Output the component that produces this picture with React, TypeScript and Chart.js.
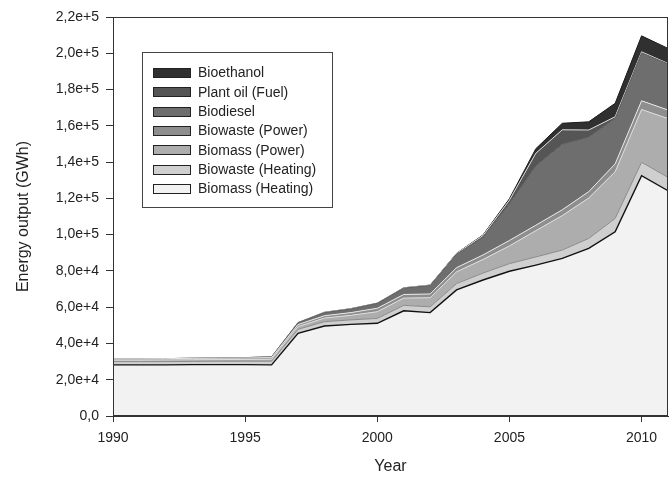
import React, { useEffect, useRef } from "react";
import { Chart, registerables } from "chart.js";

Chart.register(...registerables);

// ---- data (GWh) ----
const years = [1990, 1991, 1992, 1993, 1994, 1995, 1996, 1997, 1998, 1999, 2000, 2001, 2002, 2003, 2004, 2005, 2006, 2007, 2008, 2009, 2010, 2011];

const biomassHeating = [28200, 28200, 28200, 28300, 28300, 28300, 28200, 45600, 49600, 50500, 51100, 58000, 57000, 69500, 75000, 79800, 83200, 86900, 92400, 101600, 132500, 124200];
const biowasteHeating = [1800, 1800, 1800, 1800, 1900, 1900, 2000, 2200, 2400, 2500, 2700, 3000, 3200, 3500, 3800, 4200, 4500, 4600, 5500, 7300, 7400, 7400];
const biomassPower = [800, 800, 900, 900, 900, 1000, 1100, 1500, 2000, 2500, 3700, 4000, 5000, 6500, 7500, 9800, 14500, 19000, 22300, 25800, 29100, 32400];
const biowastePower = [700, 700, 700, 800, 800, 800, 900, 1100, 1300, 1500, 1900, 2000, 2100, 2300, 2500, 3000, 3000, 3200, 3500, 4300, 4800, 4700];
const biodiesel = [0, 0, 50, 50, 100, 200, 400, 1000, 1700, 2000, 2700, 3500, 4600, 7400, 9700, 20200, 32700, 36100, 30000, 25000, 26400, 25400];
const plantOil = [0, 0, 0, 0, 0, 0, 0, 100, 200, 200, 100, 200, 300, 400, 1000, 2000, 7000, 8000, 4000, 1000, 600, 300];
const bioethanol = [0, 0, 0, 0, 0, 0, 0, 0, 0, 0, 0, 0, 0, 100, 300, 800, 2500, 3600, 4500, 7400, 8800, 8300];

const yTickValues = [0, 20000, 40000, 60000, 80000, 100000, 120000, 140000, 160000, 180000, 200000, 220000];
const xTickValues = [1990, 1995, 2000, 2005, 2010];

const seriesNames = ["Biomass (Heating)", "Biowaste (Heating)", "Biomass (Power)", "Biowaste (Power)", "Biodiesel", "Plant oil (Fuel)", "Bioethanol"];
const seriesValues = [biomassHeating, biowasteHeating, biomassPower, biowastePower, biodiesel, plantOil, bioethanol];
const fillColors = ["#f2f2f2", "#cfcfcf", "#adadad", "#8e8e8e", "#6e6e6e", "#555555", "#303030"];
const lineColors = ["#111111", "#8a8a8a", "#dcdcdc", "#e6e6e6", "#5e5e5e", "#d8d8d8", "#1a1a1a"];
const lineWidths = [1.4, 1, 1, 1, 1, 1, 1];

const FONT = "'Liberation Sans', Arial, Helvetica, sans-serif";

function fmtY(v: number): string {
  if (v === 0) return "0,0";
  return v.toExponential(1).replace(".", ",");
}

const frameAndLegend = {
  id: "frameAndLegend",
  afterDraw(chart: any) {
    const { ctx, chartArea } = chart;
    ctx.save();
    // frame
    ctx.strokeStyle = "#333";
    ctx.lineWidth = 1;
    ctx.strokeRect(Math.round(chartArea.left) + 0.5, Math.round(chartArea.top) + 0.5, Math.round(chartArea.right - chartArea.left) - 1, Math.round(chartArea.bottom - chartArea.top) - 1);

    // legend
    const bx = 142.5, by = 52.5, bw = 190, bh = 155;
    ctx.fillStyle = "#ffffff";
    ctx.fillRect(bx, by, bw, bh);
    ctx.strokeStyle = "#444";
    ctx.strokeRect(bx, by, bw, bh);
    ctx.font = `14px ${FONT}`;
    ctx.textBaseline = "middle";
    ctx.textAlign = "left";
    const ds = chart.data.datasets;
    const n = ds.length;
    for (let i = 0; i < n; i++) {
      const d = ds[n - 1 - i];
      const cy = 72.5 + i * 19.3;
      ctx.fillStyle = d.backgroundColor;
      ctx.fillRect(153.5, Math.round(cy - 4.5) + 0.5, 37, 9);
      ctx.strokeStyle = "#222";
      ctx.strokeRect(153.5, Math.round(cy - 4.5) + 0.5, 37, 9);
      ctx.fillStyle = "#222";
      ctx.fillText(d.label, 198, cy + 1);
    }
    ctx.restore();
  },
};

export default function App() {
  const canvasRef = useRef<HTMLCanvasElement | null>(null);

  useEffect(() => {
    document.body.style.margin = "0";
    const canvas = canvasRef.current;
    if (!canvas) return;

    const datasets = seriesNames.map((name, i) => ({
      label: name,
      data: years.map((yr, j) => ({ x: yr, y: seriesValues[i][j] })),
      backgroundColor: fillColors[i],
      borderColor: lineColors[i],
      borderWidth: lineWidths[i],
      fill: i === 0 ? "origin" : "-1",
      pointRadius: 0,
      tension: 0,
    }));

    const chart = new Chart(canvas, {
      type: "line",
      data: { datasets },
      plugins: [frameAndLegend],
      options: {
        animation: false,
        responsive: false,
        devicePixelRatio: 1,
        layout: { padding: { top: 17, right: 4, left: 0, bottom: 0 } },
        plugins: {
          legend: { display: false },
          tooltip: { enabled: false },
        },
        scales: {
          x: {
            type: "linear",
            min: 1990,
            max: 2011,
            afterBuildTicks: (scale: any) => {
              scale.ticks = xTickValues.map((v) => ({ value: v }));
            },
            afterFit: (scale: any) => {
              scale.height = 61;
            },
            ticks: {
              color: "#222",
              font: { family: FONT, size: 14 },
              padding: 8,
              maxRotation: 0,
              callback: (v: any) => String(v),
            },
            grid: { drawOnChartArea: false, drawTicks: true, tickLength: 6, color: "#333" },
            border: { display: true, color: "#333" },
            title: {
              display: true,
              text: "Year",
              color: "#222",
              font: { family: FONT, size: 16 },
              padding: { top: 0, bottom: 1 },
            },
          },
          y: {
            type: "linear",
            stacked: true,
            min: 0,
            max: 220000,
            afterBuildTicks: (scale: any) => {
              scale.ticks = yTickValues.map((v) => ({ value: v }));
            },
            afterFit: (scale: any) => {
              scale.width = 113;
            },
            ticks: {
              color: "#222",
              font: { family: FONT, size: 14 },
              padding: 7,
              callback: (v: any) => fmtY(Number(v)),
            },
            grid: { drawOnChartArea: false, drawTicks: true, tickLength: 7, color: "#333" },
            border: { display: true, color: "#333" },
            title: {
              display: true,
              text: "Energy output (GWh)",
              color: "#222",
              font: { family: FONT, size: 16 },
              padding: { top: 14, bottom: 0 },
            },
          },
        },
      } as any,
    });

    return () => chart.destroy();
  }, []);

  return (
    <div style={{ position: "fixed", left: 0, top: 0, width: 672, height: 477, background: "#fff" }}>
      <canvas ref={canvasRef} width={672} height={477} style={{ display: "block" }} />
    </div>
  );
}
